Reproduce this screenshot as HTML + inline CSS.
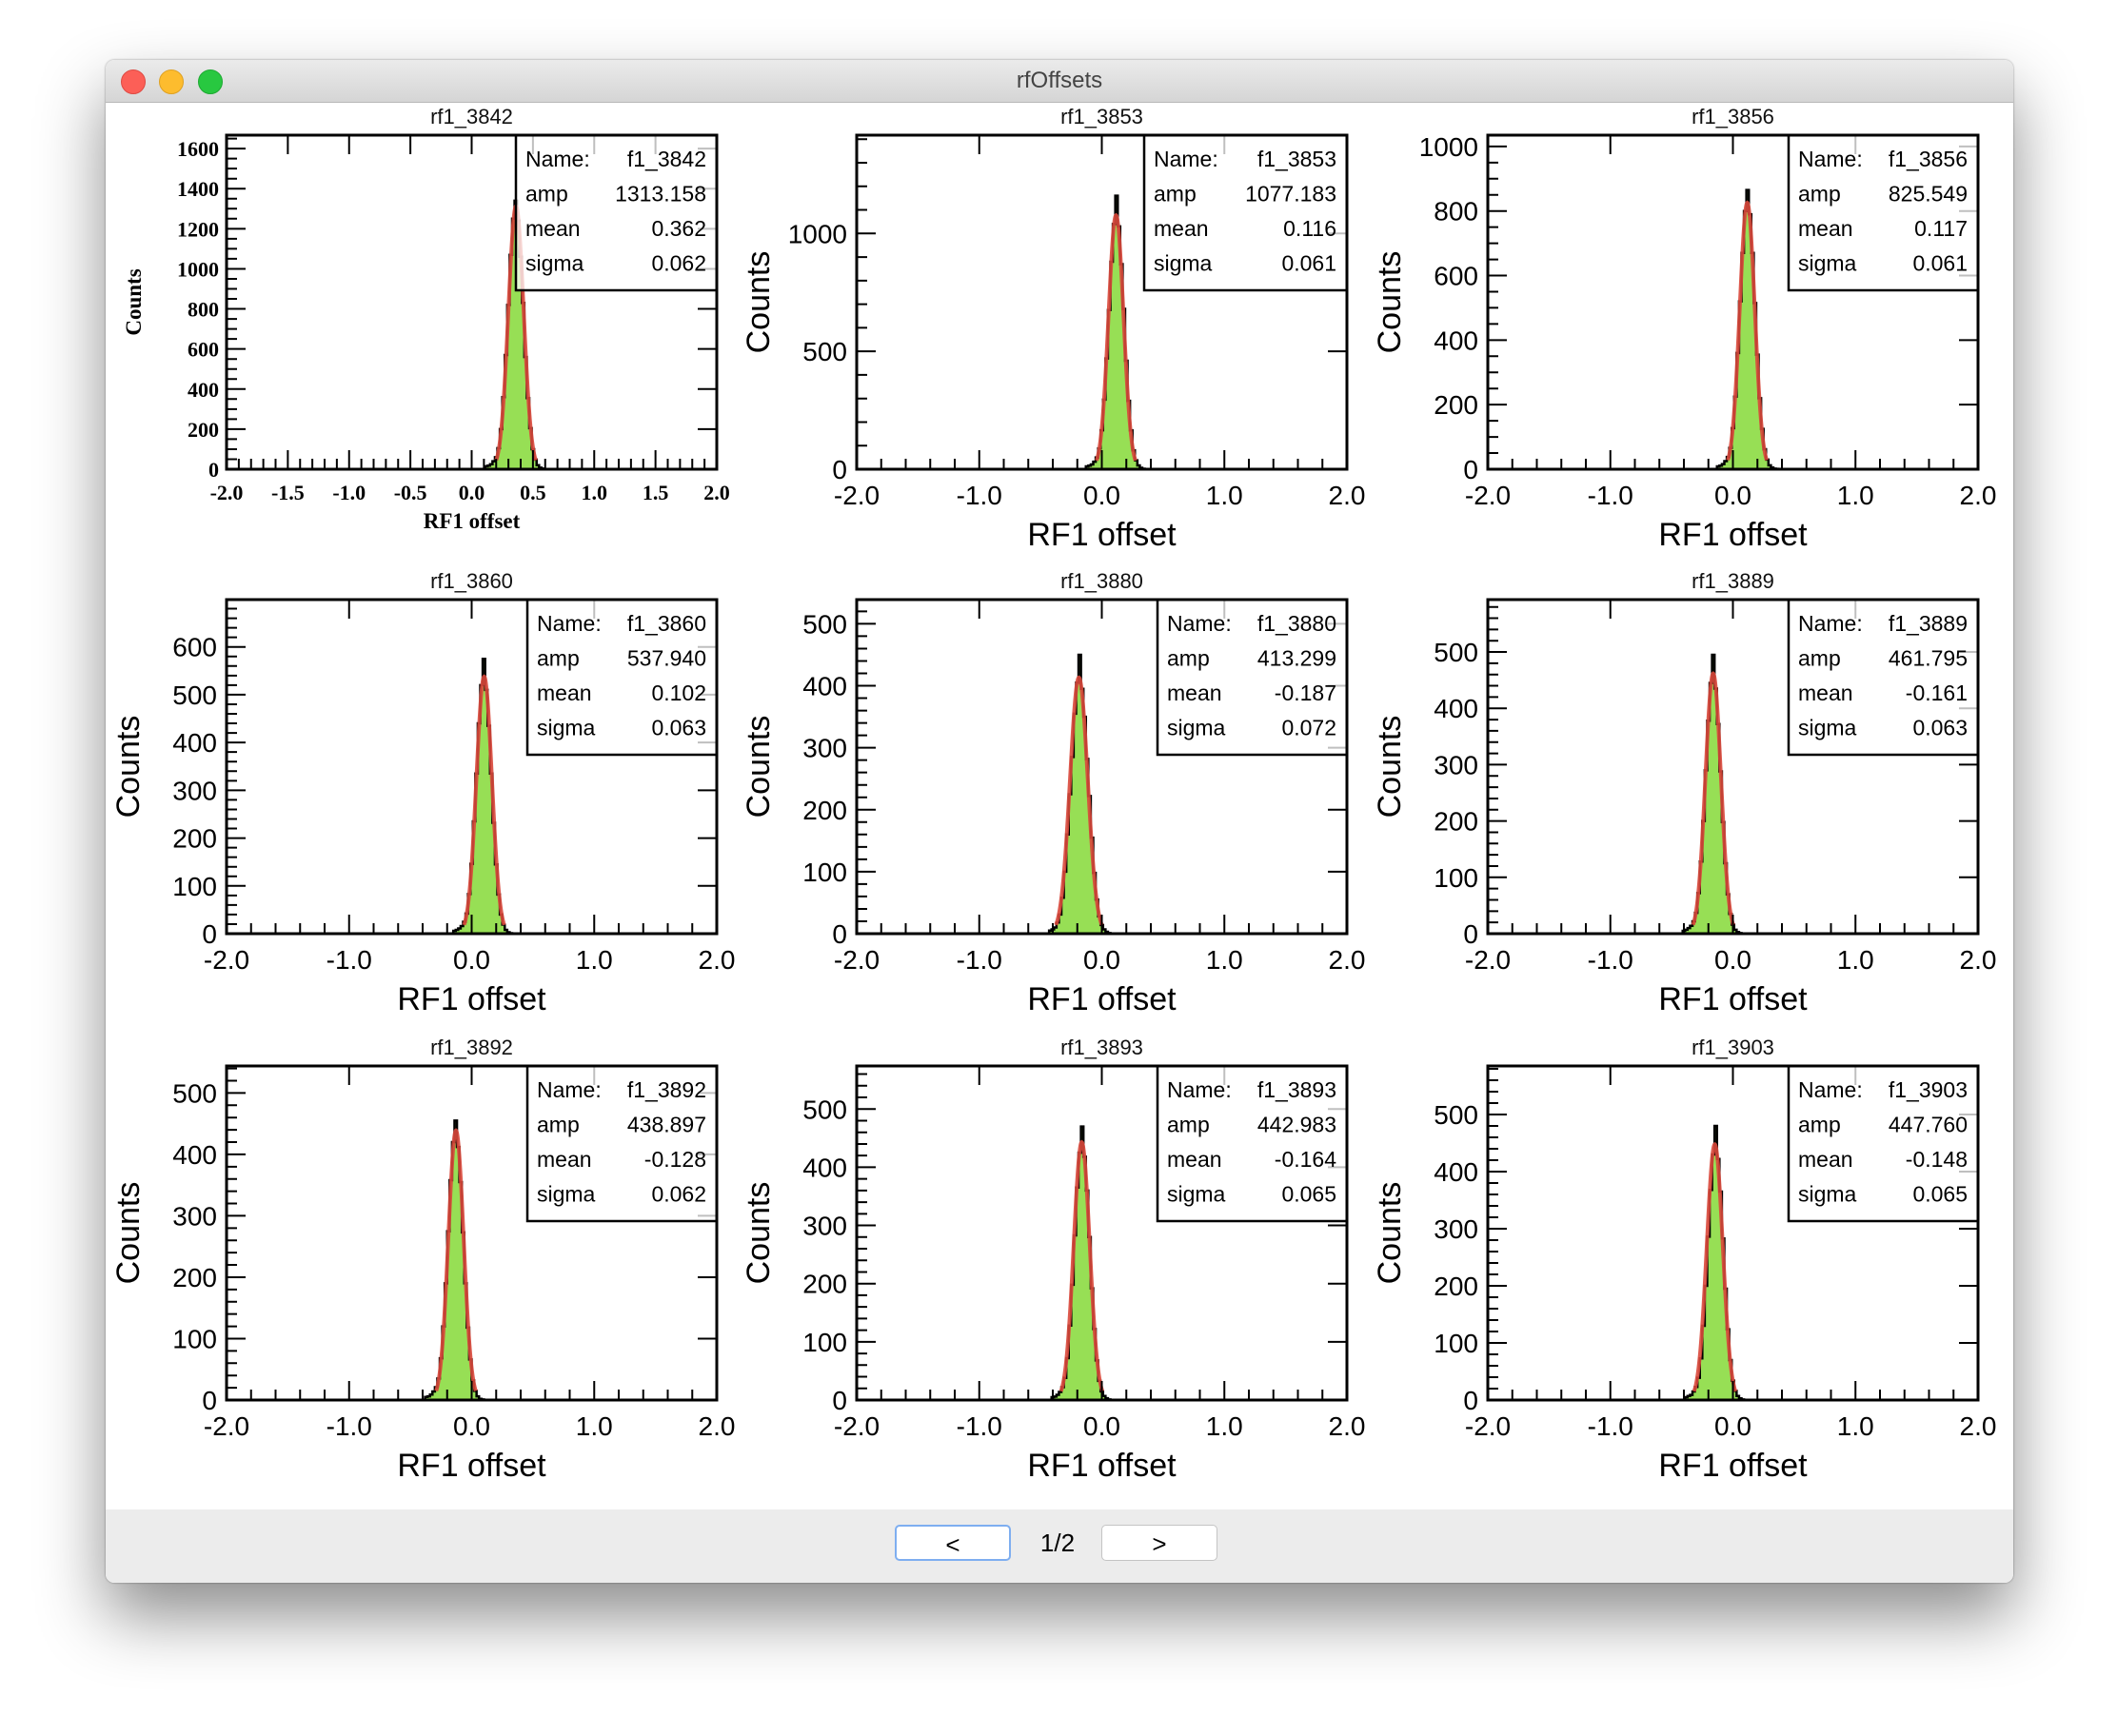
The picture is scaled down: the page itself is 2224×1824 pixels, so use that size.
<!DOCTYPE html>
<html><head><meta charset="utf-8"><title>rfOffsets</title>
<style>
html,body{margin:0;padding:0;background:#fff;width:2224px;height:1824px;overflow:hidden}
#win{position:absolute;left:111px;top:63px;width:2004px;height:1600px;border-radius:9px;background:#fff;box-shadow:0 35px 70px rgba(0,0,0,.45),0 0 2px rgba(0,0,0,.4);overflow:hidden}
#titlebar{position:absolute;left:0;top:0;width:100%;height:44px;background:linear-gradient(#ebebeb,#d5d5d5);border-bottom:1px solid #b8b8b8;font-family:"Liberation Sans",sans-serif;font-size:24px;color:#444;text-align:center;line-height:44px}
.dot{position:absolute;top:10px;width:24px;height:24px;border-radius:50%}
#bottombar{position:absolute;left:0;top:1523px;width:100%;height:77px;background:#ececec}
.btn{position:absolute;top:16px;height:38px;width:122px;background:#fff;border:1px solid #c4c4c4;border-radius:5px;font-family:"Liberation Sans",sans-serif;font-size:26px;text-align:center;line-height:38px;box-sizing:border-box}
svg{position:absolute;left:0;top:0}
</style></head><body>
<div id="win">
 <div id="titlebar">rfOffsets
  <div class="dot" style="left:16px;background:#fc5f57;border:1px solid #de4a43"></div>
  <div class="dot" style="left:56px;background:#fdbc2e;border:1px solid #dea123"></div>
  <div class="dot" style="left:97px;background:#28c840;border:1px solid #1ea932"></div>
 </div>
 <div id="bottombar">
  <div class="btn" style="left:829px;border:2px solid #7eaef0">&lt;</div>
  <div style="position:absolute;left:970px;top:16px;width:60px;text-align:center;line-height:38px;font-family:'Liberation Sans',sans-serif;font-size:26px">1/2</div>
  <div class="btn" style="left:1046px">&gt;</div>
 </div>
</div>
<svg id="chart" width="2224" height="1824" xmlns="http://www.w3.org/2000/svg"></svg>
<script>
const titles=["rf1_3842","rf1_3853","rf1_3856","rf1_3860","rf1_3880","rf1_3889","rf1_3892","rf1_3893","rf1_3903"];
const fitNames=["f1_3842","f1_3853","f1_3856","f1_3860","f1_3880","f1_3889","f1_3892","f1_3893","f1_3903"];
const amps=[1313.158,1077.183,825.549,537.940,413.299,461.795,438.897,442.983,447.760];
const means=[0.362,0.116,0.117,0.102,-0.187,-0.161,-0.128,-0.164,-0.148];
const sigmas=[0.062,0.061,0.061,0.063,0.072,0.063,0.062,0.065,0.065];
const yMax=[1667,1417,1035,699,539,593,544,574,585];
const yMajor=[200,500,200,100,100,100,100,100,100];
const yMinor=[50,100,50,20,20,20,20,20,20];
const binLo=[0.11,-0.13,-0.13,-0.15,-0.43,-0.41,-0.38,-0.41,-0.39];
const binWidth=0.02;
const counts=[
[15,18,25,40,60,105,200,360,570,820,1070,1250,1340,1240,1060,830,560,355,205,100,48,20,8,3,1],
[12,15,20,32,50,88,165,295,470,675,880,1040,1160,1030,870,680,460,290,165,80,38,16,6,2,1],
[9,11,16,25,38,66,127,225,360,520,670,800,865,790,670,515,355,220,125,62,30,12,5,2,1],
[6,8,11,16,25,42,83,146,235,335,440,520,575,510,435,335,232,145,82,40,19,8,3,1,0],
[5,7,10,18,31,58,100,160,225,285,355,405,450,395,350,282,222,155,98,55,28,14,7,3,1],
[5,7,10,14,22,37,72,128,200,290,378,445,495,435,372,288,198,125,70,35,16,7,3,1,0],
[5,6,9,14,21,35,68,120,190,275,358,420,455,412,355,273,190,118,66,32,15,6,2,1,0],
[5,6,9,14,22,38,72,128,198,283,365,425,470,418,360,280,192,122,68,33,15,7,3,1,0],
[5,7,9,15,23,39,73,130,200,286,368,430,480,422,365,283,195,124,70,34,16,7,3,1,0]];
const xTickLabelsFine=["-2.0","-1.5","-1.0","-0.5","0.0","0.5","1.0","1.5","2.0"];
const xTickLabels=["-2.0","-1.0","0.0","1.0","2.0"];
const boxW=[211,213,199,199,199,199,199,199,199];

const NS="http://www.w3.org/2000/svg";
const svg=document.getElementById('chart');
function mk(tag,attrs,parent){const e=document.createElementNS(NS,tag);for(const k in attrs)e.setAttribute(k,attrs[k]);(parent||svg).appendChild(e);return e;}
const colX=[238,900,1563], rowY=[142,630,1120], W=515, H=351;
const SANS='"Liberation Sans", sans-serif', SERIF='"Liberation Serif", serif';

for(let p=0;p<9;p++){
  const fx=colX[p%3], fy=rowY[Math.floor(p/3)];
  const xs=v=>fx+(v+2)/4*W;
  const ys=v=>fy+H-Math.max(0,Math.min(v,yMax[p]))/yMax[p]*H;
  const g=mk('g',{});
  
  
  const t=mk('text',{x:fx+W/2,y:fy-12,'text-anchor':'middle','font-family':SANS,'font-size':22,fill:'#111'},g);
  t.textContent=titles[p];
  
  
  const c=counts[p];
  let d='M'+xs(-2)+','+ys(0)+' L'+xs(binLo[p])+','+ys(0);
  for(let i=0;i<c.length;i++){const x0=xs(binLo[p]+i*binWidth),x1=xs(binLo[p]+(i+1)*binWidth);d+=' L'+x0+','+ys(c[i])+' L'+x1+','+ys(c[i]);}
  const xe=xs(binLo[p]+c.length*binWidth);
  d+=' L'+xe+','+ys(0)+' L'+xs(2)+','+ys(0);
  const h=mk('path',{d:d+' Z',fill:'#97df55',stroke:'none'},g);
  
  
  const hl=mk('path',{d:d,fill:'none',stroke:'#000','stroke-width':2.5},g);
  
  
  let fd='';
  for(let k=0;k<=120;k++){const x=means[p]-2.6*sigmas[p]+k*5.2*sigmas[p]/120;const y=amps[p]*Math.exp(-0.5*Math.pow((x-means[p])/sigmas[p],2));fd+=(k?'L':'M')+xs(x)+','+ys(y);}
  const fl=mk('path',{d:fd,fill:'none',stroke:'#d9483b','stroke-width':4,'stroke-opacity':0.9},g);
  
  
  const fine=p===0;
  const xMinorStep=fine?0.1:0.2, xMajorStep=fine?0.5:1.0;
  let td='';
  for(let i=0;i<=Math.round(4/xMinorStep);i++){const v=-2+i*xMinorStep;const maj=Math.abs(v/xMajorStep-Math.round(v/xMajorStep))<1e-6;const L=maj?20:11;const x=xs(v);td+='M'+x+','+(fy+H)+'v'+(-L);if(maj)td+='M'+x+','+fy+'v'+L;}
  for(let v=0;v<=yMax[p];v+=yMinor[p]){const maj=v%yMajor[p]===0;const L=maj?20:11;const y=ys(v);td+='M'+fx+','+y+'h'+L;if(maj)td+='M'+(fx+W)+','+y+'h'+(-L);}
  mk('path',{d:td,stroke:'#000','stroke-width':2,fill:'none'},g);
  const bw=boxW[p], bx=fx+W-bw, bh=163;
  const sb=mk('g',{},g);
  
  
  mk('rect',{x:bx,y:fy,width:bw,height:bh,fill:'#fff','fill-opacity':0.75,stroke:'#000','stroke-width':2.5},sb);
  const labels=['Name:','amp','mean','sigma'];
  const vals=[fitNames[p],amps[p].toFixed(3),means[p].toFixed(3),sigmas[p].toFixed(3)];
  for(let i=0;i<4;i++){
    const yy=fy+33+i*36.5;
    const a=mk('text',{x:bx+10,y:yy,'font-family':SANS,'font-size':23,fill:'#000'},sb);a.textContent=labels[i];
    const b=mk('text',{x:bx+bw-11,y:yy,'text-anchor':'end','font-family':SANS,'font-size':23,fill:'#000'},sb);b.textContent=vals[i];
  }
  mk('rect',{x:fx,y:fy,width:W,height:H,fill:'none',stroke:'#000','stroke-width':3},g);
  const xl=fine?xTickLabelsFine:xTickLabels;
  xl.forEach((s,i)=>{const v=-2+i*(fine?0.5:1);const e=mk('text',{x:xs(v),y:fine?fy+H+32:fy+H+37,'text-anchor':'middle','font-family':fine?SERIF:SANS,'font-weight':fine?'bold':'normal','font-size':fine?22:28,fill:'#000'},g);e.textContent=s;});
  for(let v=0;v<=yMax[p];v+=yMajor[p]){const e=mk('text',{x:fx-(fine?8:10),y:ys(v)+(fine?8:10),'text-anchor':'end','font-family':fine?SERIF:SANS,'font-weight':fine?'bold':'normal','font-size':fine?22:28,fill:'#000'},g);e.textContent=String(v);}
  const xt=mk('text',{x:fx+W/2,y:fine?fy+H+62:fy+H+80,'text-anchor':'middle','font-family':fine?SERIF:SANS,'font-weight':fine?'bold':'normal','font-size':fine?23:34,fill:'#000'},g);
  xt.textContent='RF1 offset';
  
  
  const yx=fine?fx-90:fx-92, yc=fy+H/2;
  const yt=mk('text',{x:yx,y:yc,'text-anchor':'middle','font-family':fine?SERIF:SANS,'font-weight':fine?'bold':'normal','font-size':fine?23:34,fill:'#000',transform:'rotate(-90 '+yx+' '+yc+')'},g);
  yt.textContent='Counts';
  
  
}
</script>
</body></html>
